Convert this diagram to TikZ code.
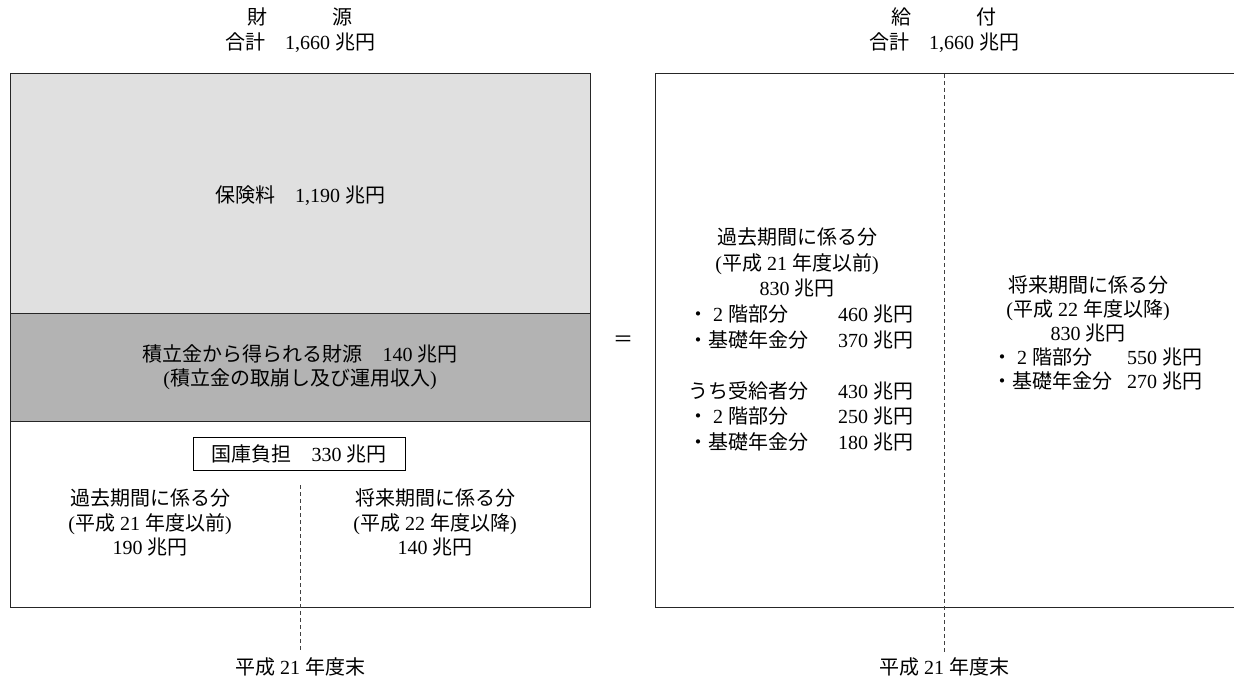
\documentclass[tikz,border=0pt]{standalone}
\usepackage{fontspec}
\setmainfont{Liberation Serif}
\newfontfamily\jpfont{Noto Sans CJK JP}
\newcommand\jt[1]{{\jpfont #1}}
\definecolor{lightband}{RGB}{224,224,224}
\definecolor{darkband}{RGB}{179,179,179}
\tikzset{
  txt/.style={inner sep=0pt, anchor=base, font=\fontsize{20}{25}\selectfont},
  boxline/.style={line width=1pt, draw=black!85},
  divline/.style={line width=0.8pt, draw=black!75, dash pattern=on 4pt off 3pt},
  framed/.style={txt, anchor=center, draw=black, line width=0.9pt, minimum width=212pt, minimum height=33pt},
}
\begin{document}
\begin{tikzpicture}[x=1pt,y=-1pt]
\useasboundingbox (0,0) rectangle (1234,682);
\fill[white] (0,0) rectangle (1234,682);

% titles
\node[txt] (tlA) at (300,24.6) {\jt{財}\hspace{3.25em}\jt{源}};
\node[txt] (tlB) at (300,49.6) {\jt{合計}\hspace{1em}1,660 \jt{兆円}};
\node[txt] (trA) at (944,24.6) {\jt{給}\hspace{3.25em}\jt{付}};
\node[txt] (trB) at (944,49.6) {\jt{合計}\hspace{1em}1,660 \jt{兆円}};

% left box
\fill[lightband] (10,74) rectangle (590,313);
\fill[darkband] (10,313) rectangle (590,421);
\draw[boxline] (10,74) rectangle (590,607);
\draw[boxline] (10,313) -- (590,313);
\draw[boxline] (10,421) -- (590,421);

\node[txt] (hok) at (300,202.6) {\jt{保険料}\hspace{1em}1,190 \jt{兆円}};
\node[txt] (tsu1) at (300,361.6) {\jt{積立金から得られる財源}\hspace{1em}140 \jt{兆円}};
\node[txt] (tsu2) at (300,385.6) {(\jt{積立金の取崩し及び運用収入})};
\node[framed] (koko) at (299,453.5) {\jt{国庫負担}\hspace{1em}330 \jt{兆円}};

\node[txt] (lp1) at (150,505.6) {\jt{過去期間に係る分}};
\node[txt] (lp2) at (150,530.1) {(\jt{平成} 21 \jt{年度以前})};
\node[txt] (lp3) at (150,554.6) {190 \jt{兆円}};
\node[txt] (lf1) at (435,505.6) {\jt{将来期間に係る分}};
\node[txt] (lf2) at (435,530.1) {(\jt{平成} 22 \jt{年度以降})};
\node[txt] (lf3) at (435,554.6) {140 \jt{兆円}};

\coordinate (dLa) at (300,485);
\coordinate (dLb) at (300,652);
\draw[divline] (dLa) -- (dLb);
\node[txt] (endL) at (300,674.6) {\jt{平成} 21 \jt{年度末}};

% equals
\node[txt, anchor=center] (eq) at (623,341) {\jt{＝}};

% right box
\draw[boxline] (1240,74) -- (655,74) -- (655,607) -- (1240,607);
\coordinate (dRa) at (944,74);
\coordinate (dRb) at (944,652);
\draw[divline] (dRa) -- (dRb);
\node[txt] (endR) at (944,674.6) {\jt{平成} 21 \jt{年度末}};

\node[txt] (rp1) at (797,244.6) {\jt{過去期間に係る分}};
\node[txt] (rp2) at (797,270.1) {(\jt{平成} 21 \jt{年度以前})};
\node[txt] (rp3) at (797,295.6) {830 \jt{兆円}};
\node[txt, anchor=base west, font=\fontsize{20}{25.5}\selectfont] (rpl) at (688,321.6) {%
  \begin{tabular}[t]{@{}l@{\hspace{30pt}}r@{}}
  \jt{・} 2 \jt{階部分} & 460 \jt{兆円}\\
  \jt{・基礎年金分} & 370 \jt{兆円}\\
  & \\
  \jt{うち受給者分} & 430 \jt{兆円}\\
  \jt{・} 2 \jt{階部分} & 250 \jt{兆円}\\
  \jt{・基礎年金分} & 180 \jt{兆円}
  \end{tabular}};

\node[txt] (rf1) at (1088,292.6) {\jt{将来期間に係る分}};
\node[txt] (rf2) at (1088,316.6) {(\jt{平成} 22 \jt{年度以降})};
\node[txt] (rf3) at (1088,340.6) {830 \jt{兆円}};
\node[txt, anchor=base west, font=\fontsize{20}{24}\selectfont] (rfl) at (992,364.6) {%
  \begin{tabular}[t]{@{}l@{\hspace{15pt}}r@{}}
  \jt{・} 2 \jt{階部分} & 550 \jt{兆円}\\
  \jt{・基礎年金分} & 270 \jt{兆円}
  \end{tabular}};
\end{tikzpicture}
\end{document}
